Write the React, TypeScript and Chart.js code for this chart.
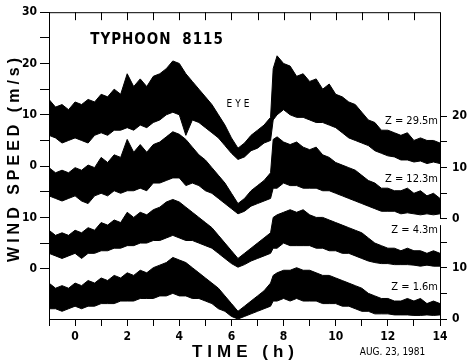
import { useEffect, useRef } from 'react';
import { Chart, registerables } from 'chart.js';

Chart.register(...registerables);

// Time (hours, Aug. 23, 1981)
const TIME_H = [
  -1, -0.75, -0.5, -0.25, 0, 0.25, 0.5, 0.75, 1, 1.25, 1.5, 1.75, 2, 2.25, 2.5, 2.75,
  3, 3.25, 3.5, 3.75, 4, 4.25, 4.5, 4.75, 5, 5.25, 5.5, 5.75, 6, 6.25, 6.5, 6.75,
  7, 7.25, 7.5, 7.6, 7.75, 8, 8.25, 8.5, 8.75, 9, 9.25, 9.5, 9.75, 10, 10.25, 10.5,
  10.75, 11, 11.25, 11.5, 11.75, 12, 12.25, 12.5, 12.75, 13, 13.25, 13.5, 13.75, 14,
];

// Wind speed envelopes (m/s): upper (spike tops) and lower (dip bottoms)
const Z295_HI = [
  13, 11.5, 12, 11, 12.5, 12, 13, 12.5, 14, 13.5, 15, 14, 18, 15.5, 17, 15.5,
  17.5, 18, 19, 20.5, 20, 18, 16.5, 15, 13.5, 12, 10, 8, 5.5, 3.5, 4.5, 6,
  7, 8, 9.5, 19, 21.5, 20, 19.5, 17.5, 18, 16.5, 17, 15, 16, 14, 13.5, 12.5,
  12, 10.5, 9, 8.5, 7, 7, 6.5, 6, 6.5, 5, 5.5, 5, 5, 4.5,
];
const Z295_LO = [
  6, 5.5, 4.5, 5, 5.5, 5, 4.5, 6, 6.5, 6, 7, 7, 7.5, 7, 8, 7.5,
  8.5, 9, 10, 10.5, 10, 6, 9, 8.5, 7.5, 6.5, 5.5, 4, 2.5, 1.3, 1.8, 3,
  3.5, 4.5, 5, 9, 10, 11, 10, 9.5, 9.5, 9, 8.5, 8.5, 8, 7.5, 6.5, 5.5,
  5, 4.5, 4, 3, 2.5, 2, 1.8, 1.2, 1.2, 0.8, 1, 0.5, 0.8, 0.5,
];
const Z123_HI = [
  10, 9, 9.5, 9, 10, 9.5, 10.5, 10, 12, 11, 12.5, 12, 15.5, 13, 14.5, 13,
  14.5, 15, 16, 17, 16.5, 15.5, 14, 12.5, 11.5, 10, 8.5, 7, 5, 3, 4, 5.5,
  6.5, 7.5, 9, 15.5, 16, 15, 14.5, 15, 14, 13.5, 14, 12.5, 12, 11, 10.5, 10,
  9.5, 8.5, 7.5, 7, 6, 6, 5.5, 5.5, 6, 5, 5.5, 4.5, 5, 4,
];
const Z123_LO = [
  4.5, 4, 3.5, 4, 4.5, 3.5, 3, 4.5, 5, 4.5, 5.5, 5, 5.5, 5.5, 6, 5.5,
  7, 7, 7.5, 8, 8, 6.5, 7, 6.5, 5.5, 5, 4, 3, 2, 1, 1.5, 2.5,
  3, 3.5, 4, 6, 6, 7, 6.5, 6.5, 6, 6, 6, 5.5, 5.5, 5, 4.5, 4,
  3.5, 3, 2.5, 2, 1.5, 1.5, 1.5, 1, 1.2, 1, 0.8, 1, 0.8, 1,
];
const Z43_HI = [
  7.5, 6.5, 7, 6.5, 7.5, 7, 8, 7.5, 9, 8.5, 9.5, 9, 11, 10, 11, 10.5,
  11.5, 12, 13, 13.5, 13, 12, 11, 10, 9, 8, 6.5, 5, 3.5, 2, 3, 4,
  5, 6, 7, 10, 10.5, 11, 11.5, 11, 11.5, 10.5, 10, 10, 9.5, 9, 8.5, 8,
  7.5, 7, 6, 5, 4.5, 4, 4, 3.5, 4, 3.5, 3.5, 3, 3.5, 3,
];
const Z43_LO = [
  3, 2.5, 2, 2.5, 3, 2, 3, 3, 3.5, 3.5, 4, 4, 4.5, 4.5, 5, 5,
  5.5, 5.5, 6, 6.5, 6, 5.5, 5.5, 5, 4.5, 4, 3, 2, 1, 0.3, 0.8, 1.5,
  2, 2.5, 3, 4, 4, 5, 4.5, 4.5, 4.5, 4.5, 4, 4, 3.5, 3.5, 3, 3,
  2.5, 2, 1.5, 1.2, 1, 1, 0.8, 0.8, 0.8, 0.7, 0.5, 0.7, 0.5, 0.5,
];
const Z16_HI = [
  7, 6, 6.5, 6, 7, 6.5, 7.5, 7, 8, 7.5, 8.5, 8, 9, 8.5, 9.5, 9,
  10, 10.5, 11, 12, 11.5, 11, 10, 9, 8, 7, 6, 4.5, 3, 1.5, 2.5, 3.5,
  4.5, 5.5, 7, 8.5, 9, 9.5, 9.5, 10, 9.5, 9.5, 9, 8.5, 8.5, 8, 7.5, 7,
  6.5, 6, 5, 4.5, 4, 4, 3.5, 3.5, 4, 3.5, 4, 3, 3.5, 3,
];
const Z16_LO = [
  2, 2, 1.5, 2, 2.5, 2, 2.5, 2.5, 3, 3, 3, 3.5, 3.5, 3.5, 4, 4,
  4, 4.5, 4.5, 5, 4.5, 4.5, 4, 4, 3.5, 3, 2, 1.5, 0.5, 0, 0.5, 1,
  1.5, 2, 2.5, 3.5, 3.5, 4, 3.5, 4, 3.5, 3.5, 3.5, 3, 3, 3, 2.5, 2.5,
  2, 1.5, 1.5, 1, 1, 1, 0.8, 0.8, 0.8, 0.7, 0.7, 0.8, 0.7, 0.8,
];

const TRACE_NAMES = ['Z = 29.5m', 'Z = 12.3m', 'Z = 4.3m', 'Z = 1.6m'];
// zero line of each trace, expressed on the left (shared) scale
const TRACE_ZERO = [0, -10.3, -20, -29.8];

const LEFT_TICKS = [30, 25, 20, 15, 10, 5, 0, -5, -10, -15, -20];
const LEFT_LABELS = ['30', '', '20', '', '10', '', '0', '', '10', '', '0'];
const RIGHT_TICKS = [9.7, 4.7, -0.3, -5.3, -10.3, -14.8, -19.8, -24.8, -29.8];
const RIGHT_LABELS = ['20', '', '10', '', '0', '', '10', '', '0'];

const Y_MIN = -29.8;
const Y_MAX = 30;
const X_MIN = -1;
const X_MAX = 14;

const NARROW = "'Liberation Sans Narrow', 'DejaVu Sans Condensed', 'Liberation Sans', sans-serif";
const SANS = "'Liberation Sans', 'DejaVu Sans', sans-serif";

const framePlugin = {
  id: 'frameAndText',
  afterDraw(chart: any) {
    const { ctx, chartArea } = chart;
    const xs = chart.scales.x;
    const ys = chart.scales.y;
    const { left, right, top, bottom } = chartArea;
    ctx.save();
    ctx.strokeStyle = '#000';
    ctx.lineWidth = 1;
    ctx.beginPath();
    // top border
    ctx.moveTo(left, top + 0.5);
    ctx.lineTo(right, top + 0.5);
    // top inward ticks (every hour)
    for (let h = X_MIN + 1; h < X_MAX; h++) {
      const px = Math.round(xs.getPixelForValue(h)) + 0.5;
      ctx.moveTo(px, top);
      ctx.lineTo(px, top + 8);
    }
    // right broken spine
    const rx = Math.round(right) + 0.5;
    ctx.moveTo(rx, top);
    ctx.lineTo(rx, ys.getPixelForValue(-10.3));
    ctx.moveTo(rx, ys.getPixelForValue(-11.5));
    ctx.lineTo(rx, bottom);
    ctx.stroke();

    ctx.fillStyle = '#000';
    ctx.textBaseline = 'middle';

    // title
    ctx.font = `bold 15px ${NARROW}`;
    (ctx as any).letterSpacing = '1px';
    (ctx as any).wordSpacing = '5px';
    ctx.textAlign = 'left';
    ctx.fillText('TYPHOON 8115', xs.getPixelForValue(0.58), ys.getPixelForValue(24.6));
    (ctx as any).wordSpacing = '0px';

    // eye
    ctx.font = `10px ${NARROW}`;
    (ctx as any).letterSpacing = '3px';
    ctx.textAlign = 'center';
    ctx.fillText('EYE', xs.getPixelForValue(6.25) + 1.5, ys.getPixelForValue(12.1));

    // height labels
    ctx.font = `11px ${NARROW}`;
    (ctx as any).letterSpacing = '0px';
    ctx.textAlign = 'right';
    const labelY = [8.8, -2.5, -12.5, -23.6];
    TRACE_NAMES.forEach((n, i) => {
      ctx.fillText(n, right - 2, ys.getPixelForValue(labelY[i]));
    });

    // x title
    ctx.font = `bold 17px ${SANS}`;
    (ctx as any).letterSpacing = '5px';
    ctx.textAlign = 'center';
    ctx.fillText('TIME (h)', (left + right) / 2 + 1, 352);

    // date
    ctx.font = `10px ${NARROW}`;
    (ctx as any).letterSpacing = '0px';
    ctx.textAlign = 'left';
    ctx.fillText('AUG. 23, 1981', xs.getPixelForValue(11) - 2, 352);

    // y title
    ctx.translate(15, ys.getPixelForValue(1.2));
    ctx.rotate(-Math.PI / 2);
    ctx.font = `bold 16px ${SANS}`;
    (ctx as any).letterSpacing = '4px';
    ctx.textAlign = 'center';
    ctx.fillText('WIND SPEED (m/s)', 2, 0);
    (ctx as any).letterSpacing = '0px';
    ctx.restore();
  },
};

export default function App() {
  const ref = useRef<HTMLCanvasElement | null>(null);

  useEffect(() => {
    if (!ref.current) return;
    const series = [
      [Z295_HI, Z295_LO],
      [Z123_HI, Z123_LO],
      [Z43_HI, Z43_LO],
      [Z16_HI, Z16_LO],
    ];
    const datasets: any[] = [];
    series.forEach(([hi, lo], k) => {
      const base = {
        borderColor: '#000',
        backgroundColor: '#000',
        borderWidth: 1,
        pointRadius: 0,
        tension: 0,
        xAxisID: 'x',
        yAxisID: 'y',
      };
      datasets.push({
        ...base,
        label: TRACE_NAMES[k] + ' max',
        data: TIME_H.map((t, i) => ({ x: t, y: TRACE_ZERO[k] + hi[i] })),
        fill: '+1',
      });
      datasets.push({
        ...base,
        label: TRACE_NAMES[k] + ' min',
        data: TIME_H.map((t, i) => ({ x: t, y: TRACE_ZERO[k] + lo[i] })),
        fill: false,
      });
    });

    const tickFont = { family: NARROW, size: 12, weight: 'bold' as const };

    const chart = new Chart(ref.current, {
      type: 'line',
      data: { datasets },
      plugins: [framePlugin],
      options: {
        animation: false,
        responsive: false,
        devicePixelRatio: 1,
        layout: { padding: { top: 12, left: 0, right: 0, bottom: 0 } },
        plugins: { legend: { display: false }, tooltip: { enabled: false } },
        scales: {
          x: {
            type: 'linear',
            min: X_MIN,
            max: X_MAX,
            afterFit: (s: any) => { s.height = 41; },
            grid: { drawOnChartArea: false, drawTicks: true, tickLength: 7, color: '#000' },
            border: { display: true, color: '#000', width: 1 },
            ticks: {
              stepSize: 1,
              autoSkip: false,
              maxRotation: 0,
              padding: 4,
              color: '#000',
              font: tickFont,
              callback: (v: any) => (Number(v) % 2 === 0 ? String(v) : ''),
            },
          },
          y: {
            type: 'linear',
            position: 'left',
            min: Y_MIN,
            max: Y_MAX,
            afterFit: (s: any) => { s.width = 49; },
            afterBuildTicks: (s: any) => { s.ticks = LEFT_TICKS.map((v) => ({ value: v })); },
            grid: { drawOnChartArea: false, drawTicks: true, tickLength: 9, color: '#000' },
            border: { display: true, color: '#000', width: 1 },
            ticks: {
              padding: 3,
              color: '#000',
              font: tickFont,
              callback: (v: any) => LEFT_LABELS[LEFT_TICKS.indexOf(Number(v))] ?? '',
            },
          },
          y2: {
            type: 'linear',
            position: 'right',
            min: Y_MIN,
            max: Y_MAX,
            afterFit: (s: any) => { s.width = 27; },
            afterBuildTicks: (s: any) => { s.ticks = RIGHT_TICKS.map((v) => ({ value: v })); },
            grid: { drawOnChartArea: false, drawTicks: true, tickLength: 7, color: '#000' },
            border: { display: false },
            ticks: {
              padding: 5,
              color: '#000',
              font: tickFont,
              callback: (v: any) => RIGHT_LABELS[RIGHT_TICKS.indexOf(Number(v))] ?? '',
            },
          },
        },
      },
    });
    return () => chart.destroy();
  }, []);

  return (
    <div style={{ position: 'absolute', left: 0, top: 0, width: 467, height: 360, background: '#fff' }}>
      <canvas ref={ref} width={467} height={360} style={{ display: 'block' }} />
    </div>
  );
}
